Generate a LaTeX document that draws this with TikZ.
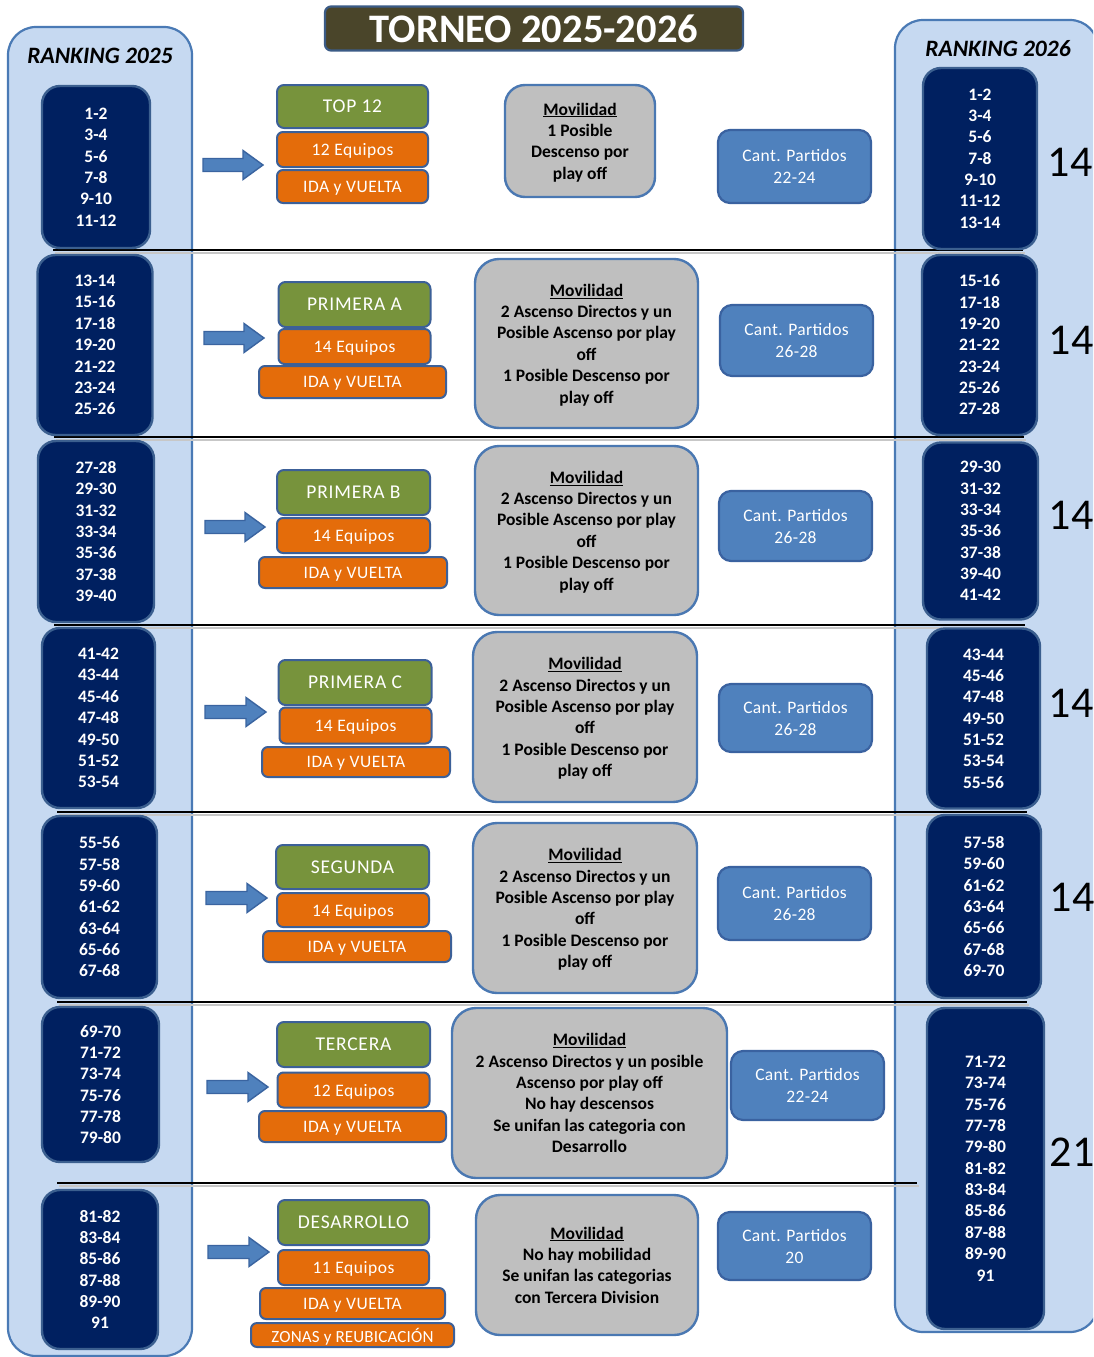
\documentclass[tikz,border=0pt]{standalone}
\usepackage{fontspec}
\setmainfont{Carlito}
\usetikzlibrary{calc}
\definecolor{bigfill}{HTML}{C6D9F1}
\definecolor{bigedge}{HTML}{4A7AB5}
\definecolor{navy}{HTML}{002060}
\definecolor{navyedge}{HTML}{3B5F8F}
\definecolor{catgreen}{HTML}{77933C}
\definecolor{catorange}{HTML}{E46C0A}
\definecolor{stackedge}{HTML}{3C6098}
\definecolor{movgray}{HTML}{BFBFBF}
\definecolor{movedge}{HTML}{4A78B2}
\definecolor{cantblue}{HTML}{4F81BD}
\definecolor{cantedge}{HTML}{3A62A0}
\definecolor{titlefill}{HTML}{4A452A}
\definecolor{titleedge}{HTML}{3B5B86}
\definecolor{arrowblue}{HTML}{4F81BD}
\definecolor{arrowedge}{HTML}{3A64A0}
\newcommand{\mybody}{\fontsize{17.5}{21.35}\selectfont}
\newcommand{\blockarrow}[2]{%
  \draw[fill=arrowblue, draw=arrowedge, line width=1.4pt, line join=miter]
  ($(#1)+(0,-6.5)$) -- ($(#2)+(-20,-6.5)$) -- ($(#2)+(-20,-14.5)$) -- (#2)
  -- ($(#2)+(-20,14.5)$) -- ($(#2)+(-20,6.5)$) -- ($(#1)+(0,6.5)$) -- cycle;}
\begin{document}
\begin{tikzpicture}[x=1pt,y=-1pt,
  wh/.style 2 args={minimum width=#1pt, minimum height=#2pt},
  bigbox/.style={draw=bigedge, fill=bigfill, line width=2.2pt, rounded corners=28pt, inner sep=0pt},
  rankbox/.style={draw=navyedge, fill=navy, line width=2.4pt, rounded corners=18pt, inner sep=0pt, text=white, align=center, font=\mybody\bfseries},
  catbox/.style={draw=stackedge, fill=catgreen, line width=2pt, rounded corners=7pt, inner sep=0pt, text=white, text depth=0pt, font=\fontsize{19.5}{22}\selectfont\addfontfeatures{LetterSpace=4}},
  infobox/.style={draw=stackedge, fill=catorange, line width=2pt, rounded corners=6pt, inner sep=0pt, text=white, text depth=0pt, font=\fontsize{17.5}{21}\selectfont\addfontfeatures{LetterSpace=3}},
  movbox/.style={draw=movedge, fill=movgray, line width=2.4pt, rounded corners=24pt, inner sep=0pt, align=center, text depth=0pt, font=\mybody\bfseries},
  cantbox/.style={draw=cantedge, fill=cantblue, line width=2.2pt, rounded corners=12pt, inner sep=0pt, align=center, text=white, font=\fontsize{17.5}{22}\selectfont\addfontfeatures{LetterSpace=2}},
  countlbl/.style={font=\fontsize{44}{44}\selectfont, inner sep=0pt},
  ranklbl/.style={font=\fontsize{23.5}{25}\selectfont\bfseries\itshape, inner sep=0pt},
  sepline/.style={line width=2.6pt, black},
  sepshade/.style={line width=2.4pt, black!22},
]
\useasboundingbox (0,0) rectangle (1093,1357);
\clip (0,0) rectangle (1093,1357);
\fill[white] (0,0) rectangle (1093,1357);

% big ranking panels
\node[bigbox, wh={184}{1329}] (rank25) at (100,691.5) {};
\node[bigbox, wh={203}{1312}] (rank26) at (996.5,676) {};
\node[ranklbl] (r25lbl) at (100,56) {RANKING 2025};
\node[ranklbl] (r26lbl) at (998,49) {RANKING 2026};

% separator lines
\foreach \i/\yy/\xa/\xb in {1/250/53/1023, 2/437/54/1024, 3/625/54/1025, 4/812/57/1027, 5/1002/57/1027, 6/1183/57/917}{
  \coordinate (sep\i a) at (\xa,\yy);
  \coordinate (sep\i b) at (\xb,\yy);
  \draw[sepshade] ($(sep\i a)+(2,3)$) -- ($(sep\i b)+(2,3)$);
  \draw[sepline] (sep\i a) -- (sep\i b);
}

% title
\node[draw=titleedge, fill=titlefill, line width=2.2pt, rounded corners=6pt, wh={418}{44}, text=white, font=\fontsize{40.5}{41}\selectfont\bfseries, inner sep=0pt] (title) at (534,28.5) {TORNEO 2025-2026};

% left ranking blocks
\node[rankbox, wh={108}{162}] (L1) at (96,167) {1-2\\3-4\\5-6\\7-8\\9-10\\11-12};
\node[rankbox, wh={115}{180}] (L2) at (95,345) {13-14\\15-16\\17-18\\19-20\\21-22\\23-24\\25-26};
\node[rankbox, wh={116}{181}] (L3) at (96,531.5) {27-28\\29-30\\31-32\\33-34\\35-36\\37-38\\39-40};
\node[rankbox, wh={113}{180}] (L4) at (98.5,718) {41-42\\43-44\\45-46\\47-48\\49-50\\51-52\\53-54};
\node[rankbox, wh={115}{182}] (L5) at (99.5,907) {55-56\\57-58\\59-60\\61-62\\63-64\\65-66\\67-68};
\node[rankbox, wh={117}{155}] (L6) at (100.5,1084.5) {69-70\\71-72\\73-74\\75-76\\77-78\\79-80};
\node[rankbox, wh={116}{159}] (L7) at (100,1269.5) {81-82\\83-84\\85-86\\87-88\\89-90\\91};

% right ranking blocks
\node[rankbox, wh={114}{181}] (R1) at (980,158.5) {1-2\\3-4\\5-6\\7-8\\9-10\\11-12\\13-14};
\node[rankbox, wh={115}{180}] (R2) at (979.5,345) {15-16\\17-18\\19-20\\21-22\\23-24\\25-26\\27-28};
\node[rankbox, wh={115}{177}] (R3) at (980.5,531) {29-30\\31-32\\33-34\\35-36\\37-38\\39-40\\41-42};
\node[rankbox, wh={113}{180}] (R4) at (983.5,718.5) {43-44\\45-46\\47-48\\49-50\\51-52\\53-54\\55-56};
\node[rankbox, wh={114}{183}] (R5) at (984,906.5) {57-58\\59-60\\61-62\\63-64\\65-66\\67-68\\69-70};
\node[rankbox, wh={117}{321}] (R6) at (985.5,1168.5) {71-72\\73-74\\75-76\\77-78\\79-80\\81-82\\83-84\\85-86\\87-88\\89-90\\91};

% team counts
\node[countlbl] (c1) at (1070,162) {14};
\node[countlbl] (c2) at (1071,340) {14};
\node[countlbl] (c3) at (1071,515) {14};
\node[countlbl] (c4) at (1071,703) {14};
\node[countlbl] (c5) at (1072,897) {14};
\node[countlbl] (c6) at (1072,1152) {21};

% stacks
\node[catbox, wh={151}{43}] (S1g) at (352.5,106.5) {TOP 12};
\node[infobox, wh={151}{35}] (S1a) at (352.5,149.5) {12 Equipos};
\node[infobox, wh={151}{33}] (S1b) at (352.5,186.5) {IDA y VUELTA};

\node[catbox, wh={152}{45}] (S2g) at (354.5,304.5) {PRIMERA A};
\node[infobox, wh={152}{35}] (S2a) at (354.5,346.5) {14 Equipos};
\node[infobox, wh={187}{32}] (S2b) at (352.5,382) {IDA y VUELTA};

\node[catbox, wh={153}{45}] (S3g) at (353.5,492.5) {PRIMERA B};
\node[infobox, wh={153}{35}] (S3a) at (353.5,535.5) {14 Equipos};
\node[infobox, wh={188}{31}] (S3b) at (353,572.5) {IDA y VUELTA};

\node[catbox, wh={153}{45}] (S4g) at (355,682.5) {PRIMERA C};
\node[infobox, wh={152}{36}] (S4a) at (355.5,725.5) {14 Equipos};
\node[infobox, wh={188}{30}] (S4b) at (356,762) {IDA y VUELTA};

\node[catbox, wh={153}{44}] (S5g) at (352.5,867) {SEGUNDA};
\node[infobox, wh={152}{34}] (S5a) at (353,910) {14 Equipos};
\node[infobox, wh={188}{31}] (S5b) at (357,946.5) {IDA y VUELTA};

\node[catbox, wh={153}{45}] (S6g) at (353.5,1044.5) {TERCERA};
\node[infobox, wh={152}{35}] (S6a) at (353.5,1090) {12 Equipos};
\node[infobox, wh={187}{31}] (S6b) at (352.5,1126.5) {IDA y VUELTA};

\node[catbox, wh={151}{45}] (S7g) at (353.5,1222.5) {DESARROLLO};
\node[infobox, wh={151}{35}] (S7a) at (353.5,1267.5) {11 Equipos};
\node[infobox, wh={185}{31}] (S7b) at (352.5,1303.5) {IDA y VUELTA};
\node[infobox, wh={203}{24}, font=\fontsize{17}{20}\selectfont\addfontfeatures{LetterSpace=1}] (S7c) at (352.5,1335) {ZONAS y REUBICACIÓN};

% arrows
\foreach \i/\xa/\xb/\yy in {1/203/263/165, 2/204/264/338, 3/205/265/527, 4/205/266/712, 5/206/267/898, 6/207/268/1087, 7/208/269/1252}{
  \coordinate (arr\i s) at (\xa,\yy);
  \coordinate (arr\i e) at (\xb,\yy);
  \blockarrow{arr\i s}{arr\i e}
}

% movilidad
\node[movbox, wh={150}{112}, rounded corners=20pt] (G1) at (580,141) {\underline{Movilidad}\\1 Posible\\Descenso por\\play off};
\node[movbox, wh={223}{169}] (G2) at (586.5,343.5) {\underline{Movilidad}\\2 Ascenso Directos y un\\Posible Ascenso por play\\off\\1 Posible Descenso por\\play off};
\node[movbox, wh={223}{169}] (G3) at (586.5,530.5) {\underline{Movilidad}\\2 Ascenso Directos y un\\Posible Ascenso por play\\off\\1 Posible Descenso por\\play off};
\node[movbox, wh={224}{170}] (G4) at (585,717) {\underline{Movilidad}\\2 Ascenso Directos y un\\Posible Ascenso por play\\off\\1 Posible Descenso por\\play off};
\node[movbox, wh={224}{170}] (G5) at (585,908) {\underline{Movilidad}\\2 Ascenso Directos y un\\Posible Ascenso por play\\off\\1 Posible Descenso por\\play off};
\node[movbox, wh={275}{170}] (G6) at (589.5,1093) {\underline{Movilidad}\\2 Ascenso Directos y un posible\\Ascenso por play off\\No hay descensos\\Se unifan las categoria con\\Desarrollo};
\node[movbox, wh={222}{140}] (G7) at (587,1265) {\underline{Movilidad}\\No hay mobilidad\\Se unifan las categorias\\con Tercera Division};

% partidos
\node[cantbox, wh={153}{73}] (B1) at (794.5,166.5) {Cant. Partidos\\22-24};
\node[cantbox, wh={153}{71}] (B2) at (796.5,340.5) {Cant. Partidos\\26-28};
\node[cantbox, wh={153}{70}] (B3) at (795.5,526) {Cant. Partidos\\26-28};
\node[cantbox, wh={153}{68}] (B4) at (795.5,718) {Cant. Partidos\\26-28};
\node[cantbox, wh={153}{73}] (B5) at (794.5,903.5) {Cant. Partidos\\26-28};
\node[cantbox, wh={153}{69}] (B6) at (807.5,1085.5) {Cant. Partidos\\22-24};
\node[cantbox, wh={153}{68}] (B7) at (794.5,1246) {Cant. Partidos\\20};
\end{tikzpicture}
\end{document}
